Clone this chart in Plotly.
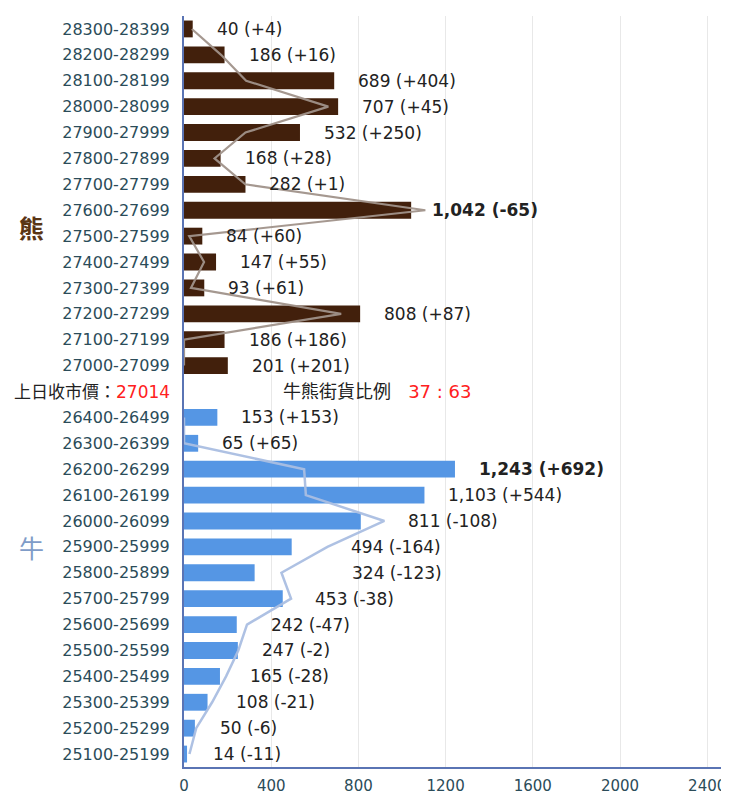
import plotly.graph_objects as go

bear_ranges = ["28300-28399", "28200-28299", "28100-28199", "28000-28099", "27900-27999",
               "27800-27899", "27700-27799", "27600-27699", "27500-27599", "27400-27499",
               "27300-27399", "27200-27299", "27100-27199", "27000-27099"]
bear_values = [40, 186, 689, 707, 532, 168, 282, 1042, 84, 147, 93, 808, 186, 201]
bear_changes = [4, 16, 404, 45, 250, 28, 1, -65, 60, 55, 61, 87, 186, 201]

bull_ranges = ["26400-26499", "26300-26399", "26200-26299", "26100-26199", "26000-26099",
               "25900-25999", "25800-25899", "25700-25799", "25600-25699", "25500-25599",
               "25400-25499", "25300-25399", "25200-25299", "25100-25199"]
bull_values = [153, 65, 1243, 1103, 811, 494, 324, 453, 242, 247, 165, 108, 50, 14]
bull_changes = [153, 65, 692, 544, -108, -164, -123, -38, -47, -2, -28, -21, -6, -11]

sep_key = "sep"
prev_close = "27014"
ratio_text = "37 : 63"
x_ticks = [0, 400, 800, 1200, 1600, 2000, 2400]

bear_prev = [v - c for v, c in zip(bear_values, bear_changes)]
bull_prev = [v - c for v, c in zip(bull_values, bull_changes)]

categories = bear_ranges + [sep_key] + bull_ranges
ticktext = bear_ranges + [""] + bull_ranges

FONT = "DejaVu Sans, Noto Sans CJK TC, sans-serif"
TICK_COLOR = "#2b4c59"
BEAR = "#42200c"
BULL = "#5596e4"

# label pixel offsets (styling only); default gap to the right of bar/line
LABEL_GAP = 25
LABEL_GAP_OVERRIDE = {"27600-27699": 8, "25800-25899": 72}

fig = go.Figure()
fig.add_trace(go.Bar(y=bear_ranges, x=bear_values, orientation="h",
                     marker=dict(color=BEAR, line=dict(width=0)), hoverinfo="x+y"))
fig.add_trace(go.Bar(y=bull_ranges, x=bull_values, orientation="h",
                     marker=dict(color=BULL, line=dict(width=0)), hoverinfo="x+y"))
fig.add_trace(go.Scatter(y=bear_ranges, x=bear_prev, mode="lines",
                         line=dict(color="rgba(160,146,138,0.95)", width=2.2)))
fig.add_trace(go.Scatter(y=bull_ranges, x=bull_prev, mode="lines",
                         line=dict(color="rgba(170,190,225,0.95)", width=2.5)))

annotations = []

def add_labels(ranges, values, changes, prev):
    vmax = max(values)
    for r, v, c, p in zip(ranges, values, changes, prev):
        t = f"{v:,} ({c:+d})"
        if v == vmax:
            t = f"<b>{t}</b>"
        annotations.append(dict(x=max(v, p), y=r, xref="x", yref="y", text=t,
                                showarrow=False, xanchor="left",
                                xshift=LABEL_GAP_OVERRIDE.get(r, LABEL_GAP) - 3,
                                font=dict(family=FONT, size=17, color="#222222")))

add_labels(bear_ranges, bear_values, bear_changes, bear_prev)
add_labels(bull_ranges, bull_values, bull_changes, bull_prev)

annotations.append(dict(x=0, xref="paper", y=sep_key, yref="y", xanchor="right", xshift=-12,
                        text=f"上日收市價：<span style='color:#ff2020'>{prev_close}</span>",
                        showarrow=False, font=dict(family=FONT, size=17, color="#222222")))
annotations.append(dict(x=0, xref="paper", y=sep_key, yref="y", xanchor="left", xshift=97,
                        text=f"牛熊街貨比例&nbsp;&nbsp;&nbsp;<span style='color:#ff2020'>{ratio_text}</span>",
                        showarrow=False, font=dict(family=FONT, size=18, color="#222222")))
annotations.append(dict(x=0, xref="paper", y=7.75, yref="y", xanchor="center", xshift=-153,
                        text="熊", showarrow=False,
                        font=dict(family=FONT, size=25, color="#5a3515", weight="bold")))
annotations.append(dict(x=0, xref="paper", y=20.1, yref="y", xanchor="center", xshift=-153,
                        text="牛", showarrow=False,
                        font=dict(family=FONT, size=25, color="#7f9cc8")))

# the page body has an 8px margin, so the figure is sized/offset to compensate
fig.update_layout(
    width=721, height=786,
    margin=dict(l=176, r=0, t=8, b=27, autoexpand=False),
    paper_bgcolor="white", plot_bgcolor="white",
    barmode="overlay", bargap=0.35,
    showlegend=False,
    annotations=annotations,
    font=dict(family=FONT),
    xaxis=dict(range=[0, 2500], tickvals=x_ticks, showgrid=True, gridcolor="#e8e8e8",
               gridwidth=1, zeroline=False, showline=True, linecolor="#5a74b4", linewidth=2,
               tickfont=dict(family=FONT, size=15, color=TICK_COLOR), ticks="",
               ticklabelstandoff=4, ticklabeloverflow="allow",
               fixedrange=True, automargin=False),
    yaxis=dict(categoryorder="array", categoryarray=categories,
               range=[len(categories) - 0.5, -0.5],
               tickvals=categories, ticktext=ticktext, showgrid=False, zeroline=False,
               showline=True, linecolor="#5a74b4", linewidth=2, ticks="",
               tickfont=dict(family=FONT, size=16, color=TICK_COLOR),
               ticklabelstandoff=9, fixedrange=True, automargin=False),
)

fig.write_html("out.html", post_script="document.body.style.overflow='hidden';")
